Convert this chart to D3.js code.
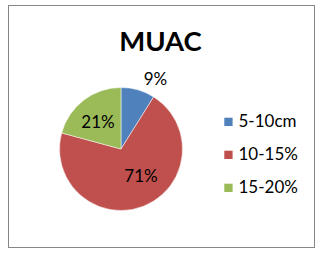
<!DOCTYPE html>
<html><head><meta charset="utf-8">
<script src="https://cdn.jsdelivr.net/npm/d3@7"></script>
<style>body{margin:0;background:#fff}svg{display:block}</style>
</head><body>
<script>
const title = "MUAC";
const categories = ["5-10cm", "10-15%", "15-20%"];
const values = [9, 71, 21];
const labels = ["9%", "71%", "21%"];
const colors = ["#4F81BD", "#C0504D", "#9BBB59"];

const W = 323, H = 253;
const svg = d3.select("body").append("svg").attr("width", W).attr("height", H);
svg.append("rect").attr("x", 8.5).attr("y", 5.5).attr("width", 306).attr("height", 242)
  .attr("fill", "#fff").attr("stroke", "#868686").attr("stroke-width", 1);

svg.append("text").attr("x", 160.5).attr("y", 50.5).attr("text-anchor", "middle")
  .attr("font-family", "Lato, 'Open Sans', sans-serif").attr("font-weight", "bold")
  .attr("font-size", 27.5).attr("fill", "#000").text(title);

const cx = 121, cy = 149, r = 61.5;
const pie = d3.pie().sort(null).value(d => d)(values);
const arc = d3.arc().innerRadius(0).outerRadius(r);
const g = svg.append("g").attr("transform", `translate(${cx},${cy})`);
g.selectAll("path").data(pie).join("path")
  .attr("d", arc).attr("fill", (d, i) => colors[i])
  .attr("stroke", "#fff").attr("stroke-width", 0.5);

const labelPos = [[34.5, -64], [20, 33], [-23, -21.3]];
g.selectAll("text.lbl").data(pie).join("text").attr("class", "lbl")
  .attr("x", (d, i) => labelPos[i][0]).attr("y", (d, i) => labelPos[i][1])
  .attr("text-anchor", "middle")
  .attr("font-family", "Lato, 'Open Sans', sans-serif").attr("font-size", 17)
  .attr("fill", "#000").text((d, i) => labels[i]);

const leg = svg.append("g");
const ly = d3.scalePoint().domain(categories).range([126.7, 192.7]);
categories.forEach((c, i) => {
  leg.append("rect").attr("x", 224.3).attr("y", ly(c) - 9).attr("width", 8.3).attr("height", 8.3).attr("fill", colors[i]);
  leg.append("text").attr("x", 238.5).attr("y", ly(c))
    .attr("font-family", "Lato, 'Open Sans', sans-serif").attr("font-size", 17)
    .attr("fill", "#000").text(c);
});
</script>
</body></html>
